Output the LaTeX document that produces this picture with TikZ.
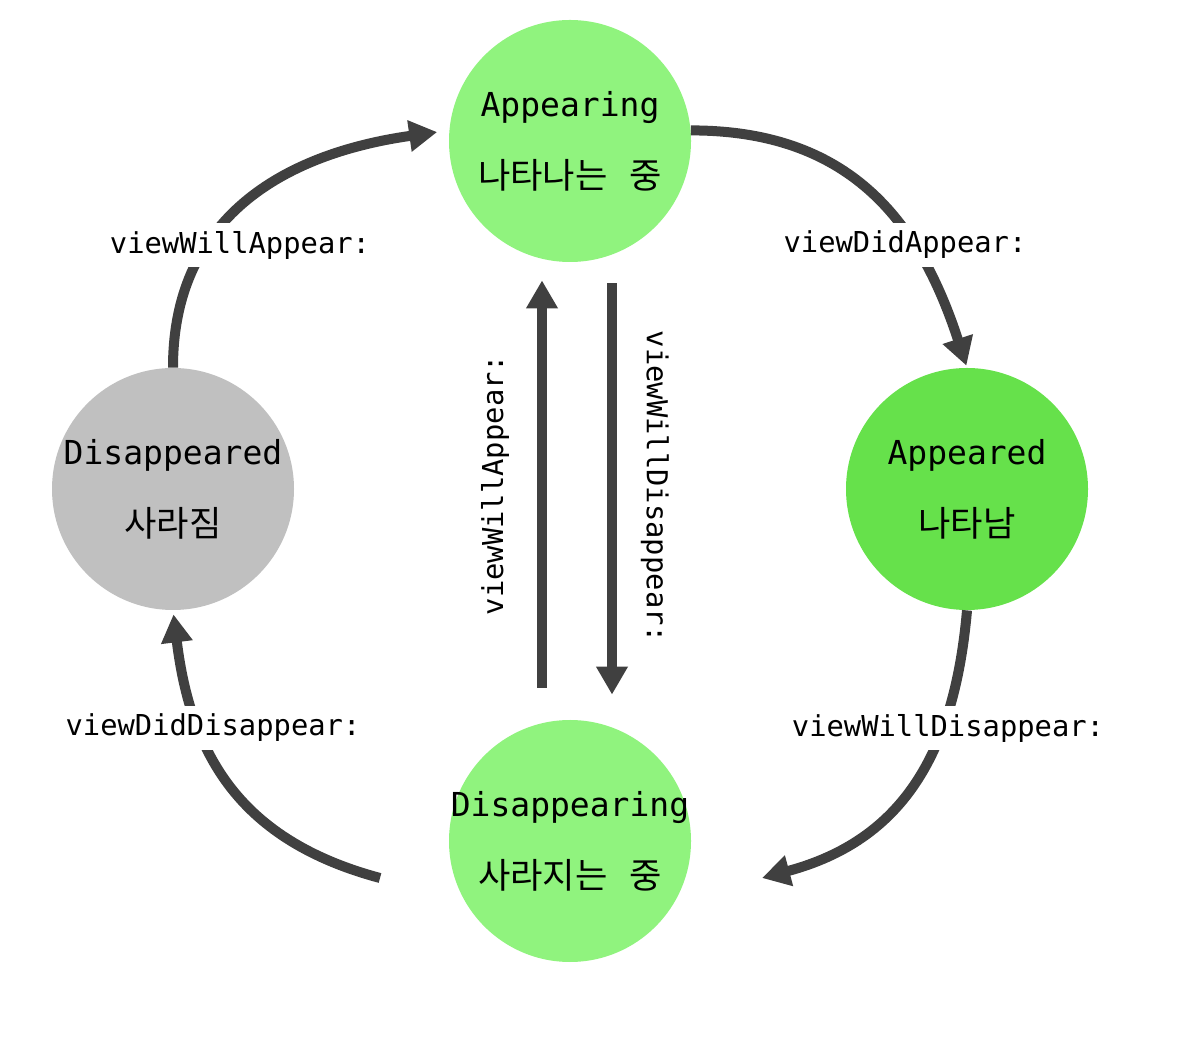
\documentclass[tikz,border=0pt]{standalone}
\usepackage{fontspec}
\setmonofont{DejaVu Sans Mono}
\newfontfamily\krfont{Noto Sans CJK KR}
\usetikzlibrary{arrows.meta}

\definecolor{appearing}{HTML}{90F37E}
\definecolor{appeared}{HTML}{66E14B}
\definecolor{gone}{HTML}{C0C0C0}
\definecolor{arrowgray}{HTML}{404040}

\newcommand{\kr}[1]{{\krfont\fontsize{17.6}{20}\selectfont #1}}

\begin{document}
\begin{tikzpicture}[x=0.5pt,y=0.5pt,
    state/.style={circle,minimum size=121pt,inner sep=-14pt,align=center,
      font=\ttfamily\fontsize{16.5}{20}\selectfont},
    flow/.style={line width=5pt,draw=arrowgray,-{Triangle[length=14pt,width=15pt]}},
    call/.style={fill=white,inner sep=4pt,font=\ttfamily\fontsize{14.4}{17}\selectfont}]
  \useasboundingbox (0,0) rectangle (1188,1060);
  % les états
  \node[state,fill=appearing] (app)  at (570,919) {Appearing\\[16pt]\kr{나타나는\hspace{11pt}중}};
  \node[state,fill=appeared]  (appd) at (967,571) {Appeared\\[16pt]\kr{나타남}};
  \node[state,fill=gone]      (dis)  at (173,571) {Disappeared\\[16pt]\kr{사라짐}};
  \node[state,fill=appearing] (disg) at (570,219) {Disappearing\\[16pt]\kr{사라지는\hspace{11pt}중}};
  % extrémités libres
  \coordinate (brEnd)   at (762,182);
  \coordinate (blStart) at (380,182);
  % les transitions
  \draw[flow,shorten >=6pt] (dis.north) to[out=90,in=188,looseness=1.1] (app.175);
  \draw[flow,shorten >=1pt] (app.5) to[out=0,in=108,looseness=1.1] (appd.north);
  \draw[flow] (appd.south) to[out=-95,in=15,looseness=1.1] (brEnd);
  \draw[flow,shorten >=2pt] (blStart) to[out=165,in=-83,looseness=1.1] (dis.south);
  \draw[flow] ([xshift=-14pt,yshift=16pt]disg.north) -- ([xshift=-14pt,yshift=-9pt]app.south);
  \draw[flow] ([xshift=21pt,yshift=-10.5pt]app.south) -- ([xshift=21pt,yshift=12.5pt]disg.north);
  % les appels
  \node[call] (willApp)    at (240,815) {viewWillAppear:};
  \node[call] (didApp)     at (905,815) {viewDidAppear:};
  \node[call] (didDis)     at (213,332) {viewDidDisappear:};
  \node[call] (willDis)    at (948,332) {viewWillDisappear:};
  \node[call,rotate=90]  (willAppUp)  at (495,575) {viewWillAppear:};
  \node[call,rotate=-90] (willDisDn)  at (655,573) {viewWillDisappear:};
\end{tikzpicture}
\end{document}
